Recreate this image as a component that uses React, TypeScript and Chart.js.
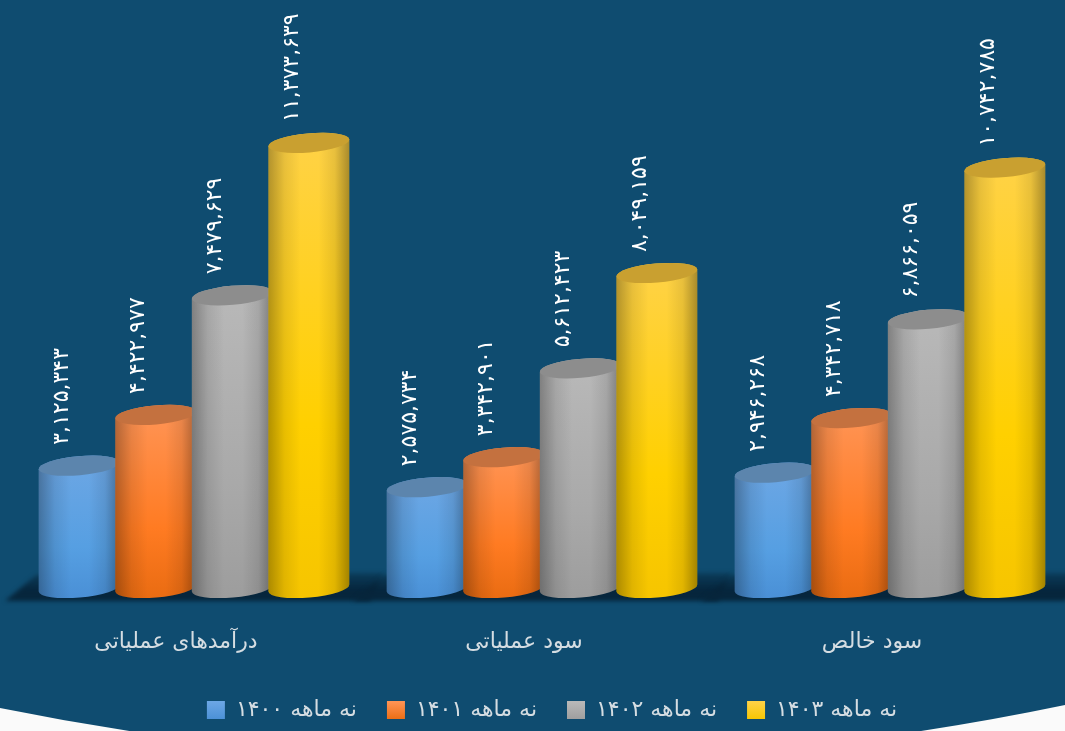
import React, { useEffect, useRef } from "react";
import { Chart, registerables } from "chart.js";

Chart.register(...registerables);

const categories = ["درآمدهای عملیاتی", "سود عملیاتی", "سود خالص"];
const seriesNames = ["نه ماهه ۱۴۰۰", "نه ماهه ۱۴۰۱", "نه ماهه ۱۴۰۲", "نه ماهه ۱۴۰۳"];
const values1400 = [3125343, 2575734, 2946268];
const values1401 = [4422977, 3342901, 4342718];
const values1402 = [7479629, 5612423, 6866059];
const values1403 = [11373639, 8049159, 10742785];
const allValues = [values1400, values1401, values1402, values1403];

const BG = "#0f4c70";
const FONT = '"DejaVu Sans", sans-serif';
const bodyStops = [
  ["#6ba6e4", "#569fe2", "#4a90d6"],
  ["#ff9353", "#ff7b22", "#ea6c12"],
  ["#b8b8b8", "#a9a9a9", "#9d9d9d"],
  ["#ffd245", "#ffd000", "#f6c500"],
];
const capColors = ["#5c85ad", "#c4713f", "#8d8d8d", "#c9a030"];

const toPersian = (n: number) =>
  n.toLocaleString("en-US").replace(/\d/g, (d) => "۰۱۲۳۴۵۶۷۸۹"[Number(d)]);

const TILT = (-5 * Math.PI) / 180;
const RY = 9.5;

const scenePlugin = {
  id: "scene",
  afterLayout(chart: any) {
    // the legend sits a little right of the plot's centre
    chart.legend.left += 10;
    chart.legend.right += 10;
  },
  beforeDraw(chart: any) {
    const { ctx, width, height } = chart;
    ctx.save();
    ctx.fillStyle = "#fafafa";
    ctx.fillRect(0, 0, width, height);
    ctx.fillStyle = BG;
    ctx.beginPath();
    ctx.moveTo(0, 0);
    ctx.lineTo(width, 0);
    ctx.lineTo(width, 705);
    ctx.quadraticCurveTo(width / 2, 816, 0, 708);
    ctx.closePath();
    ctx.fill();
    ctx.restore();
  },
  beforeDatasetsDraw(chart: any) {
    const { ctx } = chart;
    const xs = chart.scales.x;
    const base = chart.scales.y.getPixelForValue(0);
    ctx.save();
    ctx.filter = "blur(2px)";
    categories.forEach((_, i) => {
      const c = xs.getPixelForValue(i);
      const g = ctx.createLinearGradient(0, base - 14, 0, base + 12);
      g.addColorStop(0, "rgba(6,38,60,0.45)");
      g.addColorStop(0.6, "rgba(6,36,58,0.95)");
      g.addColorStop(1, "#06263c");
      ctx.fillStyle = g;
      ctx.beginPath();
      ctx.moveTo(c - 189, base + 13);
      ctx.lineTo(c - 158, base - 13);
      ctx.lineTo(c + 190, base - 15);
      ctx.lineTo(c + 176, base + 13);
      ctx.closePath();
      ctx.fill();
    });
    ctx.restore();
  },
  afterDatasetsDraw(chart: any) {
    const { ctx } = chart;
    chart.data.datasets.forEach((_: any, di: number) => {
      const meta = chart.getDatasetMeta(di);
      meta.data.forEach((el: any) => {
        const rx = el.width * 0.53;
        const { x, y, base } = el;
        ctx.save();
        ctx.beginPath();
        ctx.ellipse(x, base, rx, RY, TILT, 0, Math.PI);
        ctx.ellipse(x, y, rx, RY, TILT, Math.PI, Math.PI * 2);
        ctx.closePath();
        const v = ctx.createLinearGradient(0, y, 0, base + RY);
        v.addColorStop(0, bodyStops[di][0]);
        v.addColorStop(0.62, bodyStops[di][1]);
        v.addColorStop(1, bodyStops[di][2]);
        ctx.fillStyle = v;
        ctx.fill();
        const h = ctx.createLinearGradient(x - rx, 0, x + rx, 0);
        h.addColorStop(0, "rgba(0,0,0,0.3)");
        h.addColorStop(0.2, "rgba(0,0,0,0.09)");
        h.addColorStop(0.4, "rgba(0,0,0,0)");
        h.addColorStop(0.62, "rgba(0,0,0,0)");
        h.addColorStop(0.82, "rgba(0,0,0,0.09)");
        h.addColorStop(1, "rgba(0,0,0,0.34)");
        ctx.fillStyle = h;
        ctx.fill();
        ctx.beginPath();
        ctx.ellipse(x, y, rx, RY, TILT, 0, Math.PI * 2);
        ctx.fillStyle = capColors[di];
        ctx.fill();
        ctx.restore();
      });
    });
    // value labels, rotated
    chart.data.datasets.forEach((ds: any, di: number) => {
      const meta = chart.getDatasetMeta(di);
      meta.data.forEach((el: any, i: number) => {
        ctx.save();
        ctx.translate(el.x - 17, el.y - 21);
        ctx.rotate(-Math.PI / 2);
        ctx.font = `22px ${FONT}`;
        ctx.fillStyle = "#ffffff";
        ctx.textAlign = "left";
        ctx.textBaseline = "middle";
        ctx.direction = "ltr";
        ctx.fillText(toPersian(ds.data[i]), 0, 0);
        ctx.restore();
      });
    });
  },
};

export default function App() {
  const ref = useRef<HTMLCanvasElement>(null);
  useEffect(() => {
    const canvas = ref.current!;
    const chart = new Chart(canvas, {
      type: "bar",
      plugins: [scenePlugin],
      data: {
        labels: categories,
        datasets: seriesNames.map((name, i) => ({
          label: name,
          data: allValues[i],
          backgroundColor: bodyStops[i][1],
          borderWidth: 0,
          categoryPercentage: 0.88,
          barPercentage: 1,
        })),
      },
      options: {
        responsive: false,
        animation: false,
        devicePixelRatio: 1,
        layout: { padding: { left: 20, right: 1, top: 1, bottom: 0 } },
        plugins: {
          tooltip: { enabled: false },
          legend: {
            position: "bottom",
            labels: {
              boxWidth: 18,
              boxHeight: 18,
              padding: 30,
              color: "#d5dde2",
              font: { size: 22, family: FONT },
              generateLabels(c: any) {
                const ctx = c.ctx;
                return seriesNames.map((name, i) => {
                  const g = ctx.createLinearGradient(0, 702, 0, 720);
                  g.addColorStop(0, bodyStops[i][0]);
                  g.addColorStop(1, bodyStops[i][2]);
                  return {
                    text: name,
                    fillStyle: g,
                    strokeStyle: "transparent",
                    lineWidth: 0,
                    fontColor: "#d5dde2",
                    datasetIndex: i,
                    hidden: false,
                  };
                });
              },
            },
          },
        },
        scales: {
          x: {
            grid: { display: false },
            border: { display: false },
            afterFit(s: any) {
              s.height = 81;
            },
            ticks: {
              color: "#d5dde2",
              font: { size: 22, family: FONT },
              padding: 33,
              labelOffset: -18,
              maxRotation: 0,
            },
          },
          y: { display: false, min: 0, max: 15000000 },
        },
      },
    } as any);
    return () => chart.destroy();
  }, []);
  return (
    <div style={{ position: "fixed", left: 0, top: 0, width: 1065, height: 731, background: "#fafafa" }}>
      <canvas ref={ref} width={1065} height={731} style={{ display: "block", width: 1065, height: 731 }} />
    </div>
  );
}
